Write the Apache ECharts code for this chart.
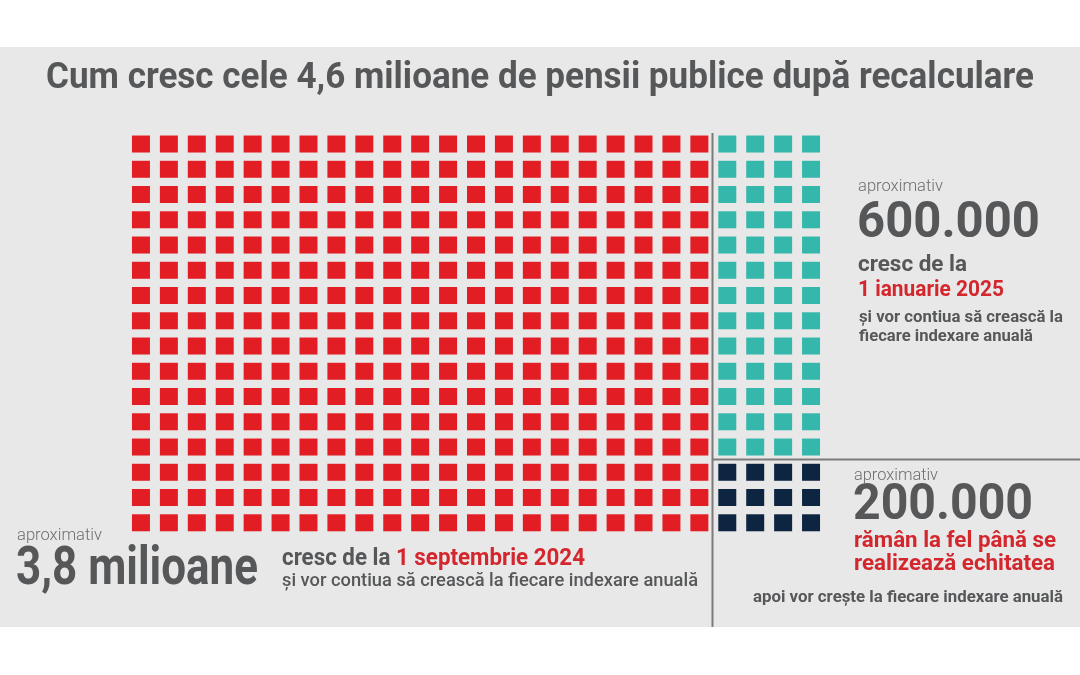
<!DOCTYPE html>
<html>
<head>
<meta charset="utf-8">
<script src="https://cdn.jsdelivr.net/npm/echarts@6/dist/echarts.min.js"></script>
<style>
html,body{margin:0;padding:0;background:#fff;}
#chart{width:1080px;height:675px;}
</style>
</head>
<body>
<div id="chart"></div>
<script>
// ---- data ----
const groupNames = ['3,8 milioane', '600.000', '200.000'];
const groupSquares = [336, 52, 12];          // squares counted in the waffle
const mainColumns = 21;                      // red block columns
const sideColumns = 4;                       // teal / navy block columns
const rowsTotal = 16;

const titleText = 'Cum cresc cele 4,6 milioane de pensii publice după recalculare';
const labelApprox = 'aproximativ';
const textsTeal = ['cresc de la', '1 ianuarie 2025', 'și vor contiua să crească la', 'fiecare indexare anuală'];
const textsNavy = ['rămân la fel până se', 'realizează echitatea', 'apoi vor crește la fiecare indexare anuală'];
const textsRed = ['cresc de la ', '1 septembrie 2024', 'și vor contiua să crească la fiecare indexare anuală'];

// ---- styles ----
const COLORS = ['#e31d24', '#35b8ab', '#0d2540'];
const GRAY = '#565759';
const LIGHT = '#6d6e71';
const RED_TXT = '#d3262d';
const FONT = 'Roboto';

// ---- build cells from counts ----
function buildCells() {
  const series = [];
  const g0 = [];
  for (let i = 0; i < groupSquares[0]; i++) {
    g0.push([Math.floor(i / rowsTotal), i % rowsTotal]);
  }
  series.push(g0);
  let k = 0;
  for (let g = 1; g < groupSquares.length; g++) {
    const arr = [];
    for (let i = 0; i < groupSquares[g]; i++, k++) {
      arr.push([mainColumns + (k % sideColumns), Math.floor(k / sideColumns)]);
    }
    series.push(arr);
  }
  return series;
}
const cells = buildCells();

const ctx = document.createElement('canvas').getContext('2d');
function measure(text, weight, size) {
  ctx.font = `${weight} ${size}px ${FONT}`;
  return ctx.measureText(text).width;
}
function txt(text, x, y, size, weight, fill, targetW) {
  const w = measure(text, weight, size);
  const s = targetW ? targetW / w : 1;
  return {
    type: 'text', x: x, y: y, scaleX: s, z: 10,
    style: {
      text: text, fill: fill, font: `${weight} ${size}px ${FONT}`,
      textAlign: 'left', textVerticalAlign: 'middle'
    }
  };
}

const chart = echarts.init(document.getElementById('chart'), null, {renderer: 'canvas'});

const graphics = [
  {type: 'rect', shape: {x: 0, y: 47, width: 1080, height: 580}, style: {fill: '#e8e8e8'}, z: -10},
  {type: 'line', shape: {x1: 712.5, y1: 133, x2: 712.5, y2: 627}, style: {stroke: '#7b7b7b', lineWidth: 2}, z: 5},
  {type: 'line', shape: {x1: 712.5, y1: 459.5, x2: 1080, y2: 459.5}, style: {stroke: '#7b7b7b', lineWidth: 2}, z: 5},
  txt(titleText, 46, 79, 37, 'bold', GRAY, 988),
  // teal block text
  txt(labelApprox, 858, 187, 17, 300, LIGHT, 85),
  txt(groupNames[1], 857, 224, 50, 'bold', GRAY, 183),
  txt(textsTeal[0], 858, 265, 22, 'bold', GRAY, 109),
  txt(textsTeal[1], 858, 290, 22, 'bold', RED_TXT, 146),
  txt(textsTeal[2], 859, 318, 16.5, 'bold', GRAY, 204),
  txt(textsTeal[3], 859, 337, 16.5, 'bold', GRAY, 174),
  // navy block text
  txt(labelApprox, 854, 476, 17, 300, LIGHT, 84),
  txt(groupNames[2], 853, 506, 50, 'bold', GRAY, 180),
  txt(textsNavy[0], 854, 541, 22, 'bold', RED_TXT, 202),
  txt(textsNavy[1], 854, 564, 22, 'bold', RED_TXT, 201),
  txt(textsNavy[2], 753, 598, 16, 'bold', GRAY, 310),
  // red block text
  txt(labelApprox, 17, 536, 17, 300, LIGHT, 85),
  txt(groupNames[0], 16, 570, 54, 'bold', GRAY, 242),
];
(function () {
  const total = 303;
  const w0 = measure(textsRed[0], 'bold', 23);
  const w1 = measure(textsRed[1], 'bold', 23);
  const s = total / (w0 + w1);
  graphics.push(txt(textsRed[0], 282, 559, 23, 'bold', GRAY, w0 * s));
  graphics.push(txt(textsRed[1], 282 + w0 * s, 559, 23, 'bold', RED_TXT, w1 * s));
  graphics.push(txt(textsRed[2], 282, 581, 19, 500, GRAY, 416));
})();

const option = {
  backgroundColor: '#ffffff',
  animation: false,
  grid: {left: 127, top: 131.4, width: 698, height: 404, containLabel: false},
  xAxis: {type: 'value', min: -0.5, max: mainColumns + sideColumns - 0.5, show: false},
  yAxis: {type: 'value', min: -0.5, max: rowsTotal - 0.5, inverse: true, show: false},
  graphic: graphics,
  series: cells.map((d, i) => ({
    type: 'scatter',
    name: groupNames[i],
    data: d,
    symbol: 'rect',
    symbolSize: [18, 17],
    itemStyle: {color: COLORS[i], opacity: 1},
    silent: true
  }))
};
chart.setOption(option);
</script>
</body>
</html>
